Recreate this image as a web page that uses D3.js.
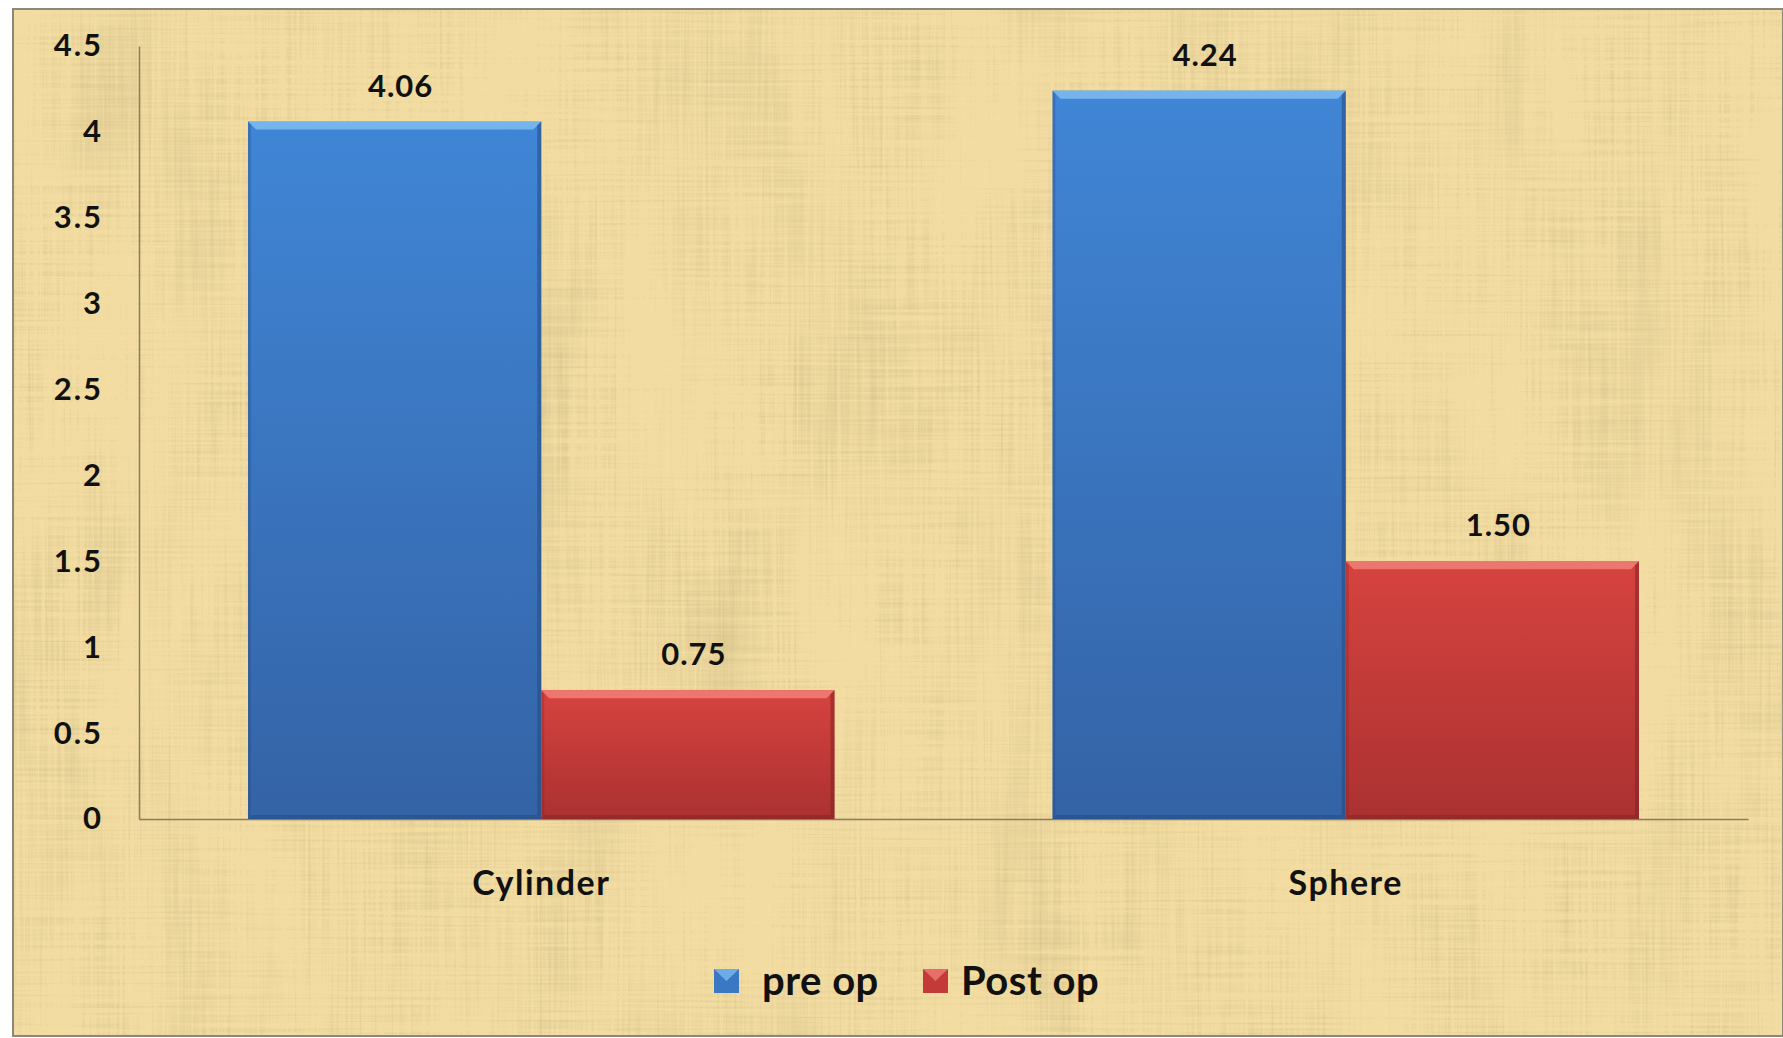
<!DOCTYPE html>
<html>
<head>
<meta charset="utf-8">
<script src="https://cdn.jsdelivr.net/npm/d3@7"></script>
<style>
  body { margin: 0; background: #ffffff; }
  text { font-family: Lato, "Open Sans", sans-serif; font-weight: bold; fill: #111; }
</style>
</head>
<body>
<div id="chart-area"></div>
<script>
var categories = ['Cylinder', 'Sphere'];
var seriesNames = ['pre op', 'Post op'];
var preOp = [4.06, 4.24];
var postOp = [0.75, 1.50];
var yTicks = [0, 0.5, 1, 1.5, 2, 2.5, 3, 3.5, 4, 4.5];

var outerWidth = 1783;
var outerHeight = 1038;
var margin = {left: 139, right: 35, top: 46, bottom: 219};
var innerWidth = outerWidth - margin.left - margin.right;
var innerHeight = outerHeight - margin.top - margin.bottom;

var svg = d3.select('#chart-area').append('svg')
            .attr('width', outerWidth)
            .attr('height', outerHeight);

var defs = svg.append('defs');

// papyrus-ish background: blotches + crossing fibres
var tex = defs.append('filter').attr('id', 'papyrus')
              .attr('x', 0).attr('y', 0).attr('width', '100%').attr('height', '100%');
tex.append('feTurbulence').attr('type', 'fractalNoise')
   .attr('baseFrequency', '0.35 0.006').attr('numOctaves', 3).attr('seed', 3).attr('result', 'v');
tex.append('feTurbulence').attr('type', 'fractalNoise')
   .attr('baseFrequency', '0.006 0.35').attr('numOctaves', 3).attr('seed', 7).attr('result', 'h');
tex.append('feTurbulence').attr('type', 'fractalNoise')
   .attr('baseFrequency', '0.012 0.004').attr('numOctaves', 3).attr('seed', 11).attr('result', 'b');
tex.append('feComposite').attr('in', 'v').attr('in2', 'h').attr('operator', 'arithmetic')
   .attr('k1', 0).attr('k2', 0.5).attr('k3', 0.5).attr('k4', 0).attr('result', 'vh');
tex.append('feComposite').attr('in', 'vh').attr('in2', 'b').attr('operator', 'arithmetic')
   .attr('k1', 0).attr('k2', 0.65).attr('k3', 0.35).attr('k4', 0).attr('result', 'n');
tex.append('feColorMatrix').attr('in', 'n').attr('type', 'matrix')
   .attr('values', '0 0 0 0 0.56  0 0 0 0 0.45  0 0 0 0 0.20  -1.6 0 0 0 0.86');

function vGrad(id, top, bottom) {
  var gr = defs.append('linearGradient').attr('id', id)
               .attr('x1', 0).attr('y1', 0).attr('x2', 0).attr('y2', 1);
  gr.append('stop').attr('offset', '0%').attr('stop-color', top);
  gr.append('stop').attr('offset', '100%').attr('stop-color', bottom);
}
vGrad('blueFill', '#4086d6', '#3463a6');
vGrad('redFill', '#d6433f', '#ab3131');
var colors = {fill: ['url(#blueFill)', 'url(#redFill)'],
              light: ['#7cb9f0', '#f07d76'],
              dark: ['#24497e', '#7e2424'],
              solid: ['#3b78c4', '#c23b38']};

svg.append('rect').attr('x', 13).attr('y', 9)
   .attr('width', outerWidth - 13).attr('height', outerHeight - 11)
   .attr('fill', '#f2dca2').attr('stroke', '#8c877c').attr('stroke-width', 2);
svg.append('rect').attr('x', 14).attr('y', 10)
   .attr('width', outerWidth - 14).attr('height', outerHeight - 13)
   .attr('filter', 'url(#papyrus)');

var g = svg.append('g')
           .attr('transform', 'translate(' + margin.left + ',' + margin.top + ')');

var xScale = d3.scaleBand().domain(categories).range([0, innerWidth]).paddingInner(0).paddingOuter(0);
var xInner = d3.scaleBand().domain(seriesNames).range([109, xScale.bandwidth() - 109]);
var yScale = d3.scaleLinear().domain([0, 4.5]).range([innerHeight, 0]);

var yAxis = d3.axisLeft(yScale).tickValues(yTicks).tickSize(0).tickPadding(36)
              .tickFormat(d3.format(''));
var yAxisG = g.append('g').attr('class', 'y axis').call(yAxis);
yAxisG.select('.domain').attr('stroke', '#8a7c5c').attr('stroke-width', 1.5);
yAxisG.selectAll('text').attr('font-size', '31px').attr('fill', '#111')
      .attr('letter-spacing', '2px');

var xAxis = d3.axisBottom(xScale).tickSize(0).tickPadding(52);
var xAxisG = g.append('g').attr('class', 'x axis')
              .attr('transform', 'translate(0,' + innerHeight + ')').call(xAxis);
xAxisG.select('.domain').attr('stroke', '#8a7c5c').attr('stroke-width', 1.5);
xAxisG.selectAll('text').attr('font-size', '34px').attr('fill', '#111')
      .attr('letter-spacing', '1.5px');

var rows = [];
categories.forEach(function(c, i) {
  rows.push({cat: c, s: 0, value: preOp[i]});
  rows.push({cat: c, s: 1, value: postOp[i]});
});

var bars = g.selectAll('.bar').data(rows).enter().append('g').attr('class', 'bar')
            .attr('transform', function(d) {
              return 'translate(' + (xScale(d.cat) + xInner(seriesNames[d.s])) + ',' + yScale(d.value) + ')';
            });
var bw = xInner.bandwidth();
var bev = 8;
bars.append('rect').attr('width', bw)
    .attr('height', function(d) { return innerHeight - yScale(d.value); })
    .attr('fill', function(d) { return colors.fill[d.s]; });
// bevel: top light strip, right dark edge, bottom dark edge
bars.append('path')
    .attr('d', 'M0,0 L' + bw + ',0 L' + (bw - bev) + ',' + bev + ' L' + bev + ',' + bev + ' Z')
    .attr('fill', function(d) { return colors.light[d.s]; }).attr('opacity', 0.9);
bars.append('path')
    .attr('d', function(d) {
      var h = innerHeight - yScale(d.value);
      return 'M' + bw + ',0 L' + bw + ',' + h + ' L' + (bw - 4) + ',' + (h - 4) + ' L' + (bw - 4) + ',4 Z';
    })
    .attr('fill', function(d) { return colors.dark[d.s]; }).attr('opacity', 0.55);
bars.append('path')
    .attr('d', function(d) {
      var h = innerHeight - yScale(d.value);
      return 'M0,' + h + ' L' + bw + ',' + h + ' L' + (bw - 4) + ',' + (h - 4) + ' L4,' + (h - 4) + ' Z';
    })
    .attr('fill', function(d) { return colors.dark[d.s]; }).attr('opacity', 0.5);
bars.append('path')
    .attr('d', function(d) {
      var h = innerHeight - yScale(d.value);
      return 'M0,0 L0,' + h + ' L3,' + (h - 3) + ' L3,3 Z';
    })
    .attr('fill', function(d) { return colors.dark[d.s]; }).attr('opacity', 0.3);

bars.append('text').attr('x', bw / 2 + 6).attr('y', -25)
    .attr('text-anchor', 'middle').attr('font-size', '31px').attr('letter-spacing', '1px')
    .text(function(d) { return d3.format('.2f')(d.value); });

// legend
var legend = svg.append('g').attr('transform', 'translate(0,981)');
var legendX = [714, 923];
seriesNames.forEach(function(name, i) {
  var item = legend.append('g').attr('transform', 'translate(' + legendX[i] + ',0)');
  item.append('rect').attr('x', 0).attr('y', -12).attr('width', 25).attr('height', 24)
      .attr('fill', colors.solid[i]);
  item.append('path').attr('d', 'M0,-12 L25,-12 L12.5,0 Z')
      .attr('fill', colors.light[i]).attr('opacity', 0.8);
  item.append('text').attr('x', i === 0 ? 48 : 38).attr('y', 0).attr('dy', '0.35em')
      .attr('font-size', '40px').attr('letter-spacing', '0.5px').text(name);
});
</script>
</body>
</html>
